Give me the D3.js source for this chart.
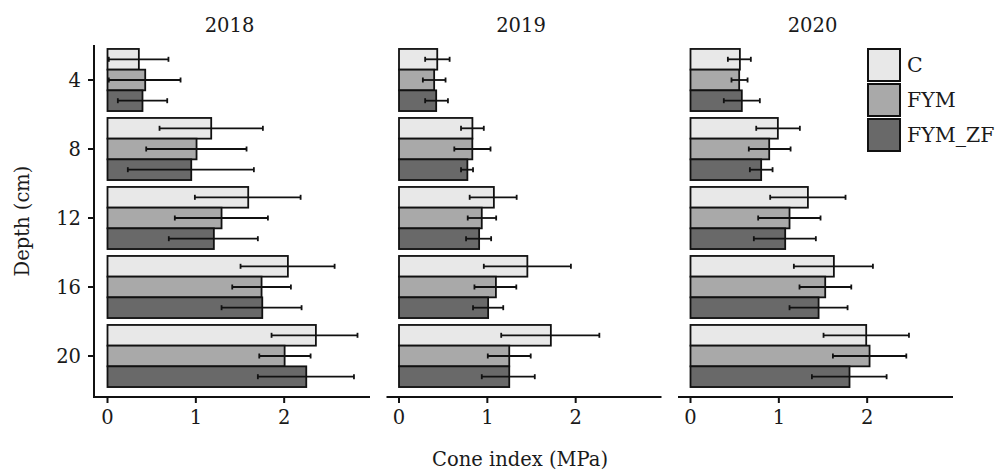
<!DOCTYPE html>
<meta charset="utf-8">
<style>
body { margin:0; background:#fff; }
text { font-family: "DejaVu Serif", serif; fill:#1a1a1a; }
</style>
<script src="https://d3js.org/d3.v7.min.js"></script>
<body>
<script>

var years = ["2018","2019","2020"]
var depths = ["4","8","12","16","20"]
var treatments = ["C","FYM","FYM_ZF"]
var fills = ["#e8e8e8","#a9a9a9","#696969"]

// rows = treatments (C, FYM, FYM_ZF), cols = depths
var mean2018 = [[0.355,1.174,1.593,2.042,2.359],[0.427,1.008,1.291,1.744,2.005],[0.396,0.948,1.204,1.752,2.25]]
var lo2018   = [[0.015,0.589,0.989,1.506,1.857],[0.015,0.438,0.762,1.412,1.718],[0.117,0.23,0.694,1.291,1.702]]
var hi2018   = [[0.69,1.759,2.186,2.571,2.83],[0.827,1.574,1.816,2.076,2.299],[0.676,1.657,1.702,2.197,2.79]]

var mean2019 = [[0.433,0.831,1.074,1.453,1.719],[0.398,0.83,0.937,1.097,1.248],[0.421,0.774,0.907,1.009,1.248]]
var lo2019   = [[0.296,0.702,0.8,0.96,1.157],[0.27,0.626,0.778,0.854,1.005],[0.296,0.702,0.759,0.838,0.937]]
var hi2019   = [[0.573,0.96,1.332,1.946,2.268],[0.527,1.036,1.1,1.328,1.491],[0.554,0.838,1.043,1.18,1.537]]

var mean2020 = [[0.559,0.989,1.329,1.623,1.989],[0.551,0.891,1.121,1.525,2.027],[0.581,0.8,1.072,1.45,1.8]]
var lo2020   = [[0.423,0.744,0.902,1.17,1.506],[0.464,0.66,0.766,1.234,1.612],[0.377,0.672,0.717,1.121,1.374]]
var hi2020   = [[0.683,1.238,1.755,2.065,2.473],[0.646,1.133,1.472,1.82,2.443],[0.785,0.929,1.419,1.778,2.22]]

var xticks = [0,1,2]

var means = [mean2018,mean2019,mean2020]
var los = [lo2018,lo2019,lo2020]
var his = [hi2018,hi2019,hi2020]

var width = 1003, height = 472
var svg = d3.select("body").append("svg").attr("width",width).attr("height",height)

var panelTop = 45, panelBottom = 397
var panelW = 275, panelStep = 291.5, firstLeft = 95

// shared x scale, ggplot-like 5% expansion
var maxv = d3.max(his, y=>d3.max(y, t=>d3.max(t)))
var ex = maxv*0.05
var x = d3.scaleLinear().domain([-ex, maxv+ex]).range([0,panelW])

var y = d3.scalePoint().domain(depths).range([80,356])
var step = y.step()
var yi = d3.scaleBand().domain(treatments).range([-step*0.45, step*0.45])

years.forEach((yr,p)=>{
  var g = svg.append("g").attr("transform","translate("+(firstLeft+p*panelStep)+",0)")

  // bars
  treatments.forEach((t,ti)=>{
    g.append("g").selectAll("rect")
    .data(means[p][ti])
    .enter().append("rect")
    .attr("x", x(0))
    .attr("y", (d,i)=> y(depths[i]) + yi(t))
    .attr("width", d=> x(d)-x(0))
    .attr("height", yi.bandwidth())
    .attr("fill", fills[ti])
    .attr("stroke","#111")
    .attr("stroke-width",1.8)
  })

  // error bars
  treatments.forEach((t,ti)=>{
    var eb = g.append("g").attr("stroke","#111").attr("stroke-width",1.8)
    means[p][ti].forEach((m,i)=>{
      var cy = y(depths[i]) + yi(t) + yi.bandwidth()/2
      var a = x(los[p][ti][i]), b = x(his[p][ti][i])
      eb.append("line").attr("x1",a).attr("x2",b).attr("y1",cy).attr("y2",cy)
      eb.append("line").attr("x1",a).attr("x2",a).attr("y1",cy-2.5).attr("y2",cy+2.5)
      eb.append("line").attr("x1",b).attr("x2",b).attr("y1",cy-2.5).attr("y2",cy+2.5)
    })
  })

  // x axis
  var xa = g.append("g").attr("transform","translate(0,"+panelBottom+")")
  xa.append("line").attr("x1",0).attr("x2",panelW).attr("stroke","#111").attr("stroke-width",2)
  xa.selectAll(".tk").data(xticks).enter().append("line")
    .attr("x1",d=>x(d)).attr("x2",d=>x(d)).attr("y1",0).attr("y2",6)
    .attr("stroke","#111").attr("stroke-width",2)
  xa.selectAll("text").data(xticks).enter().append("text")
    .attr("x",d=>x(d)).attr("y",27).attr("text-anchor","middle")
    .style("font-size","19.5px").text(d=>d)

  // strip label
  g.append("text").attr("x",panelW/2 - 3).attr("y",32).attr("text-anchor","middle")
    .style("font-size","19.5px").text(yr)

  if(p==0){
    g.append("line").attr("x1",-1).attr("x2",-1).attr("y1",panelTop).attr("y2",panelBottom+1)
      .attr("stroke","#111").attr("stroke-width",2)
    g.selectAll(".ytk").data(depths).enter().append("line")
      .attr("x1",-7).attr("x2",-1).attr("y1",d=>y(d)).attr("y2",d=>y(d))
      .attr("stroke","#111").attr("stroke-width",2)
    g.selectAll(".ylab").data(depths).enter().append("text")
      .attr("x",-14).attr("y",d=>y(d)).attr("dy","0.35em").attr("text-anchor","end")
      .style("font-size","19.5px").text(d=>d)
  }
})

// axis titles
svg.append("text").attr("x",520).attr("y",466).attr("text-anchor","middle")
  .style("font-size","19.5px").text("Cone index (MPa)")
svg.append("text").attr("transform","translate(29,221) rotate(-90)").attr("text-anchor","middle")
  .style("font-size","19.5px").text("Depth (cm)")

// legend
var lg = svg.append("g").attr("transform","translate(868,49)")
treatments.forEach((t,i)=>{
  lg.append("rect").attr("x",0).attr("y",i*35).attr("width",32).attr("height",32)
    .attr("fill",fills[i]).attr("stroke","#111").attr("stroke-width",2)
  lg.append("text").attr("x",39).attr("y",i*35+16).attr("dy","0.35em")
    .style("font-size","20.5px").text(t)
})

</script>
